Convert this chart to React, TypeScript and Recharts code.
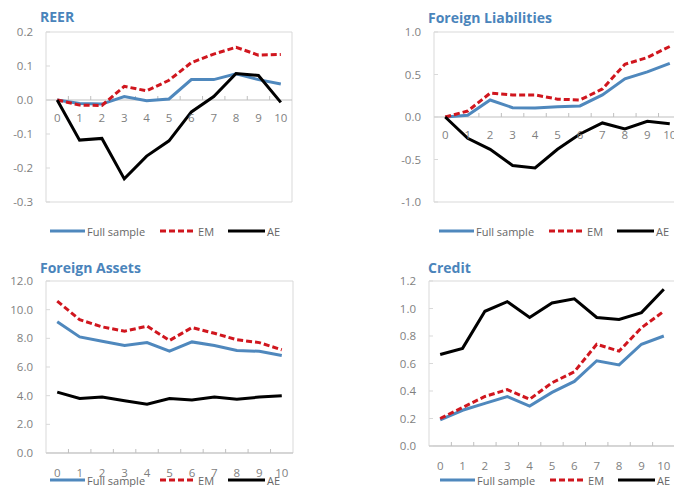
import { LineChart, Line, XAxis, YAxis, ReferenceLine, ReferenceArea, ReferenceDot } from 'recharts'

const steps = ['0', '1', '2', '3', '4', '5', '6', '7', '8', '9', '10']

const reerFull = [0, -0.01, -0.012, 0.01, -0.002, 0.003, 0.06, 0.06, 0.077, 0.06, 0.047]
const reerEM = [0, -0.015, -0.016, 0.04, 0.027, 0.058, 0.11, 0.135, 0.155, 0.132, 0.134]
const reerAE = [0, -0.118, -0.113, -0.232, -0.165, -0.12, -0.035, 0.01, 0.078, 0.072, -0.007]
const reerTicks = [-0.3, -0.2, -0.1, 0, 0.1, 0.2]

const liabFull = [0, 0.02, 0.2, 0.11, 0.105, 0.12, 0.13, 0.26, 0.45, 0.53, 0.63]
const liabEM = [0, 0.07, 0.28, 0.26, 0.26, 0.21, 0.2, 0.33, 0.62, 0.7, 0.83]
const liabAE = [0, -0.25, -0.38, -0.57, -0.6, -0.38, -0.2, -0.07, -0.14, -0.05, -0.08]
const liabTicks = [-1, -0.5, 0, 0.5, 1]

const assetFull = [9.15, 8.1, 7.8, 7.5, 7.7, 7.1, 7.75, 7.5, 7.15, 7.1, 6.8]
const assetEM = [10.6, 9.3, 8.8, 8.5, 8.85, 7.85, 8.75, 8.35, 7.9, 7.7, 7.2]
const assetAE = [4.25, 3.8, 3.9, 3.65, 3.4, 3.8, 3.7, 3.9, 3.75, 3.9, 4.0]
const assetTicks = [0, 2, 4, 6, 8, 10, 12]

const creditFull = [0.19, 0.26, 0.31, 0.36, 0.29, 0.39, 0.47, 0.62, 0.59, 0.74, 0.8]
const creditEM = [0.2, 0.28, 0.36, 0.41, 0.34, 0.46, 0.54, 0.74, 0.69, 0.86, 0.98]
const creditAE = [0.665, 0.71, 0.98, 1.05, 0.935, 1.04, 1.07, 0.935, 0.92, 0.97, 1.14]
const creditTicks = [0, 0.2, 0.4, 0.6, 0.8, 1.0, 1.2]

const BLUE = '#4f88bd'
const RED = '#d0161e'
const BLACK = '#000000'
const GREY = '#7f7f7f'

// zero line with small inside tick marks between categories
const axisWithTicks = (props: any) => {
  const { x1, x2, y1 } = props
  const n = steps.length
  const step = (x2 - x1) / n
  const marks = []
  for (let i = 1; i < n; i++) {
    const x = x1 + i * step
    marks.push(<line key={i} x1={x} x2={x} y1={y1} y2={y1 - 4} stroke="#bfbfbf" />)
  }
  return (
    <g>
      <line x1={x1} x2={x2} y1={y1} y2={y1} stroke="#bfbfbf" />
      {marks}
    </g>
  )
}

function LegendRow({ left, top }: { left: number; top: number }) {
  const item = (color: string, dash: string | undefined, w: number, label: string, gap: number) => (
    <span style={{ display: 'flex', alignItems: 'center', marginRight: gap }}>
      <svg width={w} height={6}>
        <line x1={0} x2={w} y1={3} y2={3} stroke={color} strokeWidth={3} strokeDasharray={dash} />
      </svg>
      <span style={{ marginLeft: 2 }}>{label}</span>
    </span>
  )
  return (
    <div
      style={{
        position: 'absolute',
        left,
        top,
        height: 16,
        display: 'flex',
        alignItems: 'center',
        fontSize: 11,
        color: '#666',
        whiteSpace: 'nowrap',
      }}
    >
      {item(BLUE, undefined, 35, 'Full sample', 15)}
      {item(RED, '6 3', 36, 'EM', 14)}
      {item(BLACK, undefined, 37, 'AE', 0)}
    </div>
  )
}

type PanelProps = {
  title: string
  full: number[]
  em: number[]
  ae: number[]
  ticks: number[]
  x: number
  y: number
  w: number
  h: number
  margin: { top: number; right: number; bottom: number; left: number }
  labelsOnZero: boolean
  titleX: number
  titleY: number
  legendX: number
  legendY: number
}

function Panel(p: PanelProps) {
  const data = steps.map((s, i) => ({ step: s, full: p.full[i], em: p.em[i], ae: p.ae[i] }))
  const lo = p.ticks[0]
  const hi = p.ticks[p.ticks.length - 1]
  return (
    <>
      <div
        style={{
          position: 'absolute',
          left: p.titleX,
          top: p.titleY,
          lineHeight: '18px',
          fontSize: 14,
          fontWeight: 700,
          color: '#4a84bb',
          whiteSpace: 'nowrap',
        }}
      >
        {p.title}
      </div>
      <div style={{ position: 'absolute', left: p.x, top: p.y }}>
        <LineChart width={p.w} height={p.h} data={data} margin={p.margin}>
          {p.labelsOnZero ? (
            <XAxis dataKey="step" scale="band" hide />
          ) : (
            <XAxis
              dataKey="step"
              scale="band"
              height={20}
              axisLine={false}
              tickLine={false}
              tickSize={0}
              tickMargin={16}
              interval={0}
              tick={{ fill: GREY, fontSize: 11.5 }}
            />
          )}
          <YAxis
            type="number"
            domain={[lo, hi]}
            ticks={p.ticks}
            width={40}
            axisLine={false}
            tickSize={-4}
            tickMargin={17}
            tickLine={{ stroke: '#d9d9d9' }}
            tickFormatter={(v: number) => v.toFixed(1)}
            tick={{ fill: GREY, fontSize: 11.5 }}
          />
          <ReferenceArea y1={lo} y2={hi} fill="none" fillOpacity={0} stroke="#d9d9d9" ifOverflow="visible" />
          <ReferenceLine y={0} shape={axisWithTicks} />
          {p.labelsOnZero &&
            steps.map((s) => (
              <ReferenceDot
                key={s}
                x={s}
                y={0}
                r={0}
                fill="none"
                stroke="none"
                label={{ value: s, position: 'bottom', offset: 14, fill: GREY, fontSize: 11.5 }}
              />
            ))}
          <Line dataKey="full" stroke={BLUE} strokeWidth={3} dot={false} isAnimationActive={false} />
          <Line dataKey="em" stroke={RED} strokeWidth={3} strokeDasharray="6 3" dot={false} isAnimationActive={false} />
          <Line dataKey="ae" stroke={BLACK} strokeWidth={3} dot={false} isAnimationActive={false} />
        </LineChart>
      </div>
      <LegendRow left={p.legendX} top={p.legendY} />
    </>
  )
}

export default function App() {
  return (
    <div
      style={{
        position: 'absolute',
        left: 0,
        top: 0,
        width: 674,
        height: 487,
        overflow: 'hidden',
        background: '#fff',
        fontFamily: '"Open Sans", sans-serif',
      }}
    >
      <Panel
        title="REER"
        full={reerFull}
        em={reerEM}
        ae={reerAE}
        ticks={reerTicks}
        x={0}
        y={0}
        w={337}
        h={244}
        margin={{ top: 32, right: 45, bottom: 42, left: 6 }}
        labelsOnZero
        titleX={40}
        titleY={8}
        legendX={50}
        legendY={223}
      />
      <Panel
        title="Foreign Liabilities"
        full={liabFull}
        em={liabEM}
        ae={liabAE}
        ticks={liabTicks}
        x={337}
        y={0}
        w={350}
        h={244}
        margin={{ top: 32, right: 6, bottom: 42, left: 57 }}
        labelsOnZero
        titleX={428}
        titleY={9}
        legendX={439}
        legendY={223}
      />
      <Panel
        title="Foreign Assets"
        full={assetFull}
        em={assetEM}
        ae={assetAE}
        ticks={assetTicks}
        x={0}
        y={244}
        w={337}
        h={243}
        margin={{ top: 37, right: 44, bottom: 14, left: 6 }}
        labelsOnZero={false}
        titleX={40}
        titleY={259}
        legendX={50}
        legendY={472}
      />
      <Panel
        title="Credit"
        full={creditFull}
        em={creditEM}
        ae={creditAE}
        ticks={creditTicks}
        x={337}
        y={244}
        w={340}
        h={243}
        margin={{ top: 37, right: 2, bottom: 21, left: 52 }}
        labelsOnZero={false}
        titleX={428}
        titleY={259}
        legendX={440}
        legendY={472}
      />
    </div>
  )
}
